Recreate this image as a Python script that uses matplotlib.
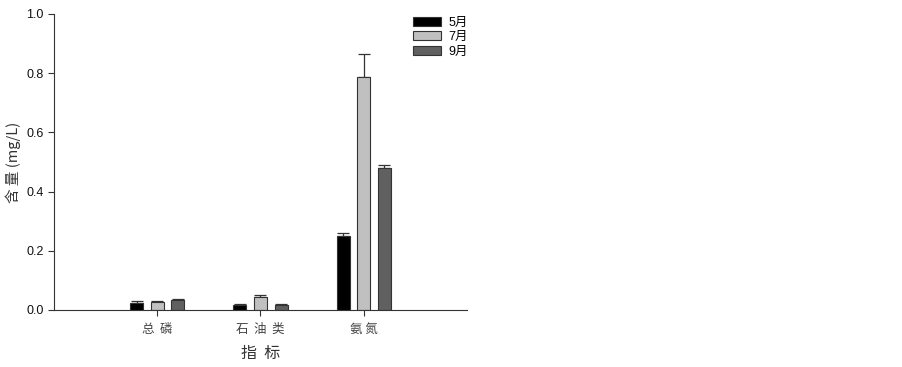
import matplotlib
matplotlib.use("Agg")
import matplotlib.pyplot as plt
import numpy as np

plt.rcParams['font.family'] = ['Liberation Sans', 'Noto Sans CJK SC', 'DejaVu Sans']

categories = ["总  磷", "石  油  类", "氨 氮"]
series_names = ["5月", "7月", "9月"]
may_vals = [0.025, 0.016, 0.250]
jul_vals = [0.028, 0.045, 0.787]
sep_vals = [0.035, 0.016, 0.480]
may_err = [0.005, 0.004, 0.011]
jul_err = [0.001, 0.005, 0.079]
sep_err = [0.002, 0.003, 0.010]
y_ticks = [0.0, 0.2, 0.4, 0.6, 0.8, 1.0]

colors = ["#000000", "#c0c0c0", "#606060"]
vals = [may_vals, jul_vals, sep_vals]
errs = [may_err, jul_err, sep_err]

fig = plt.figure(figsize=(9.03, 3.67), dpi=100)
ax = fig.add_axes([54/903, 57/367, 413/903, 296/367])

x = np.arange(len(categories))
offset = 0.2
width = 0.125
for i, (v, e, c, n) in enumerate(zip(vals, errs, colors, series_names)):
    pos = x + (i - 1) * offset
    ax.bar(pos, v, width=width, color=c, edgecolor="#333333", linewidth=0.8, label=n, zorder=2)
    ax.errorbar(pos, v, yerr=[np.zeros(len(e)), e], fmt="none", ecolor="#333333",
                elinewidth=0.9, capsize=4, capthick=0.9, zorder=1)

ax.set_xlim(-1, 3)
ax.set_ylim(0, 1.0)
ax.set_yticks(y_ticks)
ax.set_yticklabels([f"{t:.1f}" for t in y_ticks], fontsize=9)
ax.set_xticks(x)
ax.set_xticklabels(categories, fontsize=9, family=['Noto Sans CJK SC'])
ax.tick_params(axis='both', direction='out', length=4, width=0.8, colors="#333333")
ax.tick_params(axis='x', pad=5, labelcolor="#444444")
ax.tick_params(axis='y', labelcolor="#111111")
for s in ["top", "right"]:
    ax.spines[s].set_visible(False)
for s in ["left", "bottom"]:
    ax.spines[s].set_linewidth(0.8)
    ax.spines[s].set_color("#333333")

ax.set_ylabel("含 量 (mg/L)", fontsize=10.5, family=['Noto Sans CJK SC', 'DejaVu Sans'], color="#333333", labelpad=4)
ax.set_xlabel("指  标", fontsize=11.5, family=['Noto Sans CJK SC'], color="#333333", labelpad=7)

leg = ax.legend(loc="upper left", bbox_to_anchor=((413 - 54 - 2) / 413, 1.0), frameon=False,
                handlelength=2.2, handleheight=0.75, handletextpad=0.6, labelspacing=0.2,
                borderaxespad=0.0, borderpad=0.2,
                prop={'family': ['Liberation Sans', 'Noto Sans CJK SC'], 'size': 9})

fig.savefig("out.png", dpi=100)
